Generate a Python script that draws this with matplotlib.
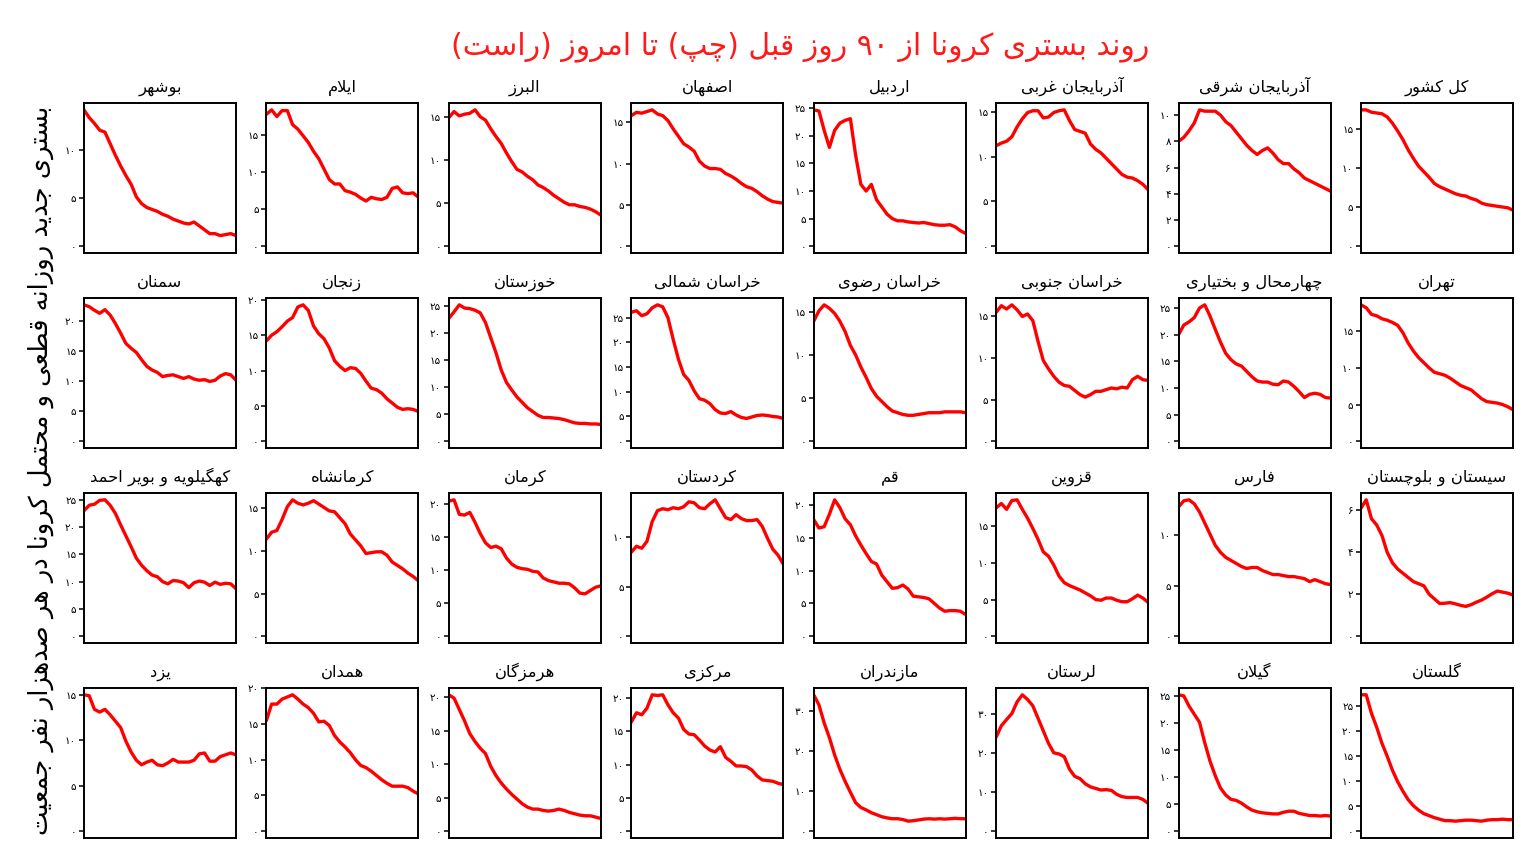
import re
import numpy as np
import matplotlib
matplotlib.use("Agg")
import matplotlib.pyplot as plt
from matplotlib.ticker import MaxNLocator, FuncFormatter

# ---------------- data (per 100k, last 90 days, sampled every 3 days) ----------------
names = ["کل کشور", "آذربایجان شرقی", "آذربایجان غربی", "اردبیل", "اصفهان", "البرز", "ایلام", "بوشهر",
         "تهران", "چهارمحال و بختیاری", "خراسان جنوبی", "خراسان رضوی", "خراسان شمالی", "خوزستان", "زنجان", "سمنان",
         "سیستان و بلوچستان", "فارس", "قزوین", "قم", "کردستان", "کرمان", "کرمانشاه", "کهگیلویه و بویر احمد",
         "گلستان", "گیلان", "لرستان", "مازندران", "مرکزی", "هرمزگان", "همدان", "یزد"]

kol_keshvar = [17.4, 17.4, 17.1, 17.0, 16.9, 16.5, 15.7, 14.7, 13.6, 12.3, 11.2, 10.2, 9.5, 8.8, 8.0,
               7.6, 7.3, 7.0, 6.7, 6.5, 6.4, 6.1, 5.9, 5.5, 5.3, 5.2, 5.1, 5.0, 4.9, 4.6]
azar_sharghi = [8.0, 8.3, 8.8, 9.4, 10.4, 10.3, 10.3, 10.3, 10.0, 9.5, 9.2, 8.7, 8.2, 7.7, 7.3,
                7.0, 7.3, 7.5, 7.1, 6.6, 6.3, 6.3, 5.9, 5.6, 5.2, 5.0, 4.8, 4.6, 4.4, 4.2]
azar_gharbi = [11.2, 11.5, 11.7, 12.2, 13.3, 14.2, 14.9, 15.1, 15.1, 14.3, 14.4, 14.9, 15.1, 15.2, 14.0,
               13.0, 12.8, 12.6, 11.4, 10.8, 10.4, 9.8, 9.2, 8.6, 8.0, 7.7, 7.6, 7.3, 6.9, 6.3]
ardabil = [24.7, 24.5, 21.0, 17.9, 21.0, 22.3, 22.8, 23.1, 16.5, 11.2, 10.0, 11.2, 8.4, 7.1, 5.8,
           5.0, 4.6, 4.6, 4.4, 4.3, 4.2, 4.3, 4.1, 3.9, 3.8, 3.8, 3.9, 3.5, 2.8, 2.3]
isfahan = [15.8, 16.2, 16.1, 16.3, 16.5, 16.0, 15.8, 15.2, 14.2, 13.3, 12.4, 12.0, 11.5, 10.3, 9.7,
           9.4, 9.4, 9.3, 8.8, 8.5, 8.1, 7.6, 7.2, 7.0, 6.6, 6.1, 5.7, 5.4, 5.3, 5.2]
alborz = [14.9, 15.6, 15.1, 15.3, 15.4, 15.8, 15.0, 14.6, 13.6, 12.7, 11.9, 10.8, 9.8, 8.9, 8.6,
          8.1, 7.7, 7.1, 6.8, 6.4, 5.9, 5.5, 5.1, 4.8, 4.8, 4.6, 4.5, 4.3, 4.0, 3.6]
ilam = [17.8, 18.4, 17.5, 18.3, 18.3, 16.4, 15.8, 14.9, 14.0, 12.8, 11.8, 10.4, 9.0, 8.4, 8.4,
        7.5, 7.3, 7.0, 6.5, 6.1, 6.6, 6.4, 6.3, 6.6, 7.8, 8.0, 7.2, 7.1, 7.2, 6.6]
bushehr = [14.1, 13.3, 12.7, 12.0, 11.8, 10.6, 9.4, 8.3, 7.3, 6.4, 5.1, 4.4, 4.0, 3.8, 3.6,
           3.3, 3.1, 2.8, 2.6, 2.4, 2.3, 2.5, 2.1, 1.7, 1.3, 1.3, 1.1, 1.2, 1.3, 1.1]

tehran = [18.6, 18.2, 17.3, 17.1, 16.7, 16.5, 16.2, 15.8, 14.8, 13.4, 12.3, 11.4, 10.7, 10.0, 9.4,
          9.2, 9.0, 8.6, 8.1, 7.6, 7.3, 7.0, 6.4, 5.8, 5.4, 5.3, 5.2, 5.0, 4.7, 4.3]
chaharmahal = [20.0, 21.8, 22.4, 23.2, 25.0, 25.6, 23.5, 21.0, 18.6, 16.5, 15.3, 14.5, 14.1, 13.1, 12.1,
               11.3, 11.1, 11.1, 10.7, 10.6, 11.3, 11.1, 10.3, 9.3, 8.2, 8.8, 9.0, 8.8, 8.2, 8.1]
khorasan_jonubi = [15.5, 16.3, 15.9, 16.4, 15.8, 15.0, 15.3, 14.5, 12.0, 9.7, 8.7, 7.8, 7.1, 6.7, 6.6,
                   6.1, 5.6, 5.3, 5.6, 6.0, 6.0, 6.2, 6.4, 6.3, 6.5, 6.4, 7.4, 7.8, 7.4, 7.3]
khorasan_razavi = [13.9, 15.1, 15.8, 15.4, 14.8, 13.9, 12.7, 11.1, 10.0, 8.6, 7.4, 6.1, 5.2, 4.6, 4.0,
                   3.5, 3.3, 3.1, 3.0, 3.0, 3.1, 3.2, 3.3, 3.3, 3.3, 3.4, 3.4, 3.4, 3.4, 3.3]
khorasan_shomali = [26.1, 26.4, 25.4, 25.8, 27.0, 27.6, 27.2, 25.0, 20.6, 16.6, 13.5, 12.3, 10.2, 8.6, 8.3,
                    7.6, 6.4, 5.7, 5.6, 6.0, 5.3, 4.8, 4.6, 4.9, 5.2, 5.3, 5.2, 5.0, 4.9, 4.6]
khuzestan = [22.8, 24.0, 25.3, 24.7, 24.6, 24.3, 23.8, 22.0, 19.2, 16.4, 13.2, 10.9, 9.5, 8.2, 7.2,
             6.2, 5.5, 4.8, 4.4, 4.4, 4.3, 4.2, 4.0, 3.7, 3.4, 3.3, 3.3, 3.2, 3.2, 3.1]
zanjan = [14.2, 15.0, 15.5, 16.2, 17.0, 17.5, 19.0, 19.3, 18.5, 16.3, 15.2, 14.5, 13.2, 11.4, 10.6,
          10.0, 10.4, 10.3, 9.6, 8.5, 7.5, 7.3, 6.8, 6.0, 5.4, 4.8, 4.5, 4.6, 4.5, 4.2]
semnan = [22.6, 22.3, 21.7, 21.2, 21.8, 20.9, 19.5, 17.9, 16.2, 15.4, 14.7, 13.5, 12.4, 11.8, 11.4,
          10.7, 10.9, 11.0, 10.7, 10.4, 10.7, 10.3, 10.1, 10.2, 9.9, 10.1, 10.8, 11.2, 11.0, 10.1]

sistan = [6.1, 6.5, 5.6, 5.3, 4.8, 4.0, 3.5, 3.2, 3.0, 2.8, 2.6, 2.5, 2.4, 2.0, 1.78,
          1.56, 1.57, 1.60, 1.54, 1.47, 1.42, 1.50, 1.62, 1.72, 1.86, 2.02, 2.15, 2.10, 2.05, 1.96]
fars = [12.8, 13.4, 13.5, 13.1, 12.3, 11.2, 10.1, 9.0, 8.3, 7.8, 7.5, 7.2, 6.9, 6.7, 6.8,
        6.8, 6.5, 6.3, 6.1, 6.1, 6.0, 5.9, 5.9, 5.8, 5.7, 5.4, 5.6, 5.4, 5.2, 5.1]
qazvin = [17.5, 18.1, 17.3, 18.5, 18.6, 17.3, 16.1, 14.7, 13.2, 11.5, 10.9, 9.7, 8.2, 7.3, 6.9,
          6.6, 6.3, 5.9, 5.5, 5.0, 4.9, 5.2, 5.2, 4.9, 4.7, 4.7, 5.1, 5.6, 5.2, 4.6]
qom = [17.8, 16.5, 16.7, 18.6, 20.8, 19.6, 17.9, 17.0, 15.3, 13.9, 12.6, 11.4, 11.0, 9.3, 8.3,
       7.3, 7.4, 7.8, 7.2, 6.1, 6.0, 5.9, 5.7, 5.0, 4.3, 3.8, 3.9, 3.9, 3.8, 3.3]
kordestan = [8.5, 9.1, 8.9, 9.6, 11.6, 12.7, 12.9, 12.8, 13.0, 12.9, 13.1, 13.6, 13.5, 13.0, 12.9,
             13.4, 13.8, 12.9, 12.0, 11.8, 12.3, 11.9, 11.7, 11.7, 11.8, 11.1, 9.9, 8.8, 8.2, 7.3]
kerman = [20.4, 20.6, 18.4, 18.3, 18.7, 17.2, 15.5, 14.1, 13.4, 13.6, 13.2, 11.8, 10.9, 10.4, 10.2,
          10.1, 9.8, 9.7, 8.8, 8.4, 8.2, 8.0, 8.0, 7.9, 7.3, 6.5, 6.4, 6.9, 7.4, 7.6]
kermanshah = [11.4, 12.2, 12.4, 13.7, 15.2, 16.0, 15.6, 15.4, 15.6, 15.9, 15.5, 15.1, 14.7, 14.6, 13.9,
              13.2, 12.0, 11.3, 10.6, 9.7, 9.8, 9.9, 9.9, 9.5, 8.7, 8.3, 7.9, 7.4, 7.0, 6.5]
kohgiluyeh = [23.0, 24.0, 24.2, 24.9, 25.0, 24.0, 22.5, 20.4, 18.4, 16.4, 14.3, 13.0, 12.0, 11.2, 10.9,
              10.0, 9.6, 10.2, 10.1, 9.8, 8.9, 9.8, 10.1, 9.9, 9.3, 9.9, 9.5, 9.7, 9.6, 8.7]

golestan = [27.3, 27.3, 23.6, 20.8, 17.6, 15.0, 12.2, 9.9, 8.0, 6.3, 5.1, 4.2, 3.5, 3.1, 2.7,
            2.4, 2.1, 2.1, 2.0, 2.1, 2.2, 2.2, 2.1, 2.0, 2.2, 2.3, 2.3, 2.4, 2.3, 2.3]
gilan = [25.3, 25.1, 23.2, 21.7, 20.2, 16.4, 13.0, 10.3, 8.0, 6.7, 5.9, 5.7, 5.2, 4.5, 3.9,
         3.6, 3.4, 3.3, 3.2, 3.2, 3.5, 3.7, 3.7, 3.3, 3.1, 2.9, 2.9, 2.8, 2.9, 2.8]
lorestan = [24.0, 26.9, 28.5, 30.0, 33.0, 34.8, 33.6, 32.0, 28.8, 25.6, 22.4, 20.0, 19.7, 19.0, 15.8,
            14.0, 13.4, 12.1, 11.3, 10.9, 10.5, 10.6, 10.4, 9.4, 8.8, 8.6, 8.6, 8.6, 8.1, 7.1]
mazandaran = [34.0, 31.5, 27.0, 23.3, 19.0, 15.4, 12.4, 9.7, 7.1, 5.9, 5.3, 4.6, 4.1, 3.6, 3.3,
              3.1, 3.1, 2.9, 2.5, 2.6, 2.8, 3.0, 3.1, 3.0, 3.1, 3.0, 3.1, 3.2, 3.1, 3.1]
markazi = [16.4, 17.8, 17.5, 18.5, 20.5, 20.4, 20.5, 19.0, 17.8, 17.0, 15.3, 14.6, 14.5, 13.7, 12.8,
           12.2, 11.9, 12.7, 11.1, 10.5, 9.8, 9.8, 9.7, 9.2, 8.3, 7.7, 7.6, 7.5, 7.2, 7.0]
hormozgan = [20.4, 19.9, 18.2, 16.5, 14.6, 13.4, 12.4, 11.6, 9.7, 8.3, 7.2, 6.3, 5.5, 4.8, 4.1,
             3.6, 3.3, 3.3, 3.1, 3.0, 3.1, 3.3, 3.1, 2.8, 2.6, 2.4, 2.3, 2.3, 2.1, 1.9]
hamedan = [15.5, 17.8, 17.8, 18.5, 18.8, 19.1, 18.5, 17.8, 17.3, 16.5, 15.3, 15.4, 14.8, 13.4, 12.5,
           11.8, 11.0, 10.0, 9.2, 8.9, 8.4, 7.8, 7.2, 6.7, 6.3, 6.3, 6.3, 6.1, 5.6, 5.2]
yazd = [15.0, 14.9, 13.4, 13.1, 13.4, 12.8, 12.1, 11.4, 9.9, 8.7, 7.8, 7.3, 7.6, 7.8, 7.3,
        7.2, 7.5, 7.9, 7.6, 7.6, 7.6, 7.8, 8.5, 8.6, 7.7, 7.7, 8.2, 8.4, 8.6, 8.4]

series = [kol_keshvar, azar_sharghi, azar_gharbi, ardabil, isfahan, alborz, ilam, bushehr,
          tehran, chaharmahal, khorasan_jonubi, khorasan_razavi, khorasan_shomali, khuzestan, zanjan, semnan,
          sistan, fars, qazvin, qom, kordestan, kerman, kermanshah, kohgiluyeh,
          golestan, gilan, lorestan, mazandaran, markazi, hormozgan, hamedan, yazd]

title_text = "روند بستری کرونا از ۹۰ روز قبل (چپ) تا امروز (راست)"
ylabel_text = "بستری جدید روزانه قطعی و محتمل کرونا در هر صدهزار نفر جمعیت"

# ---------------- small persian shaper (matplotlib does no arabic shaping) ----------------
# iso, fin, ini, med
FORMS = {
    'ا': ('\uFE8D', '\uFE8E', None, None), 'آ': ('\uFE81', '\uFE82', None, None),
    'ب': ('\uFE8F', '\uFE90', '\uFE91', '\uFE92'), 'پ': ('\uFB56', '\uFB57', '\uFB58', '\uFB59'),
    'ت': ('\uFE95', '\uFE96', '\uFE97', '\uFE98'), 'ث': ('\uFE99', '\uFE9A', '\uFE9B', '\uFE9C'),
    'ج': ('\uFE9D', '\uFE9E', '\uFE9F', '\uFEA0'), 'چ': ('\uFB7A', '\uFB7B', '\uFB7C', '\uFB7D'),
    'ح': ('\uFEA1', '\uFEA2', '\uFEA3', '\uFEA4'), 'خ': ('\uFEA5', '\uFEA6', '\uFEA7', '\uFEA8'),
    'د': ('\uFEA9', '\uFEAA', None, None), 'ذ': ('\uFEAB', '\uFEAC', None, None),
    'ر': ('\uFEAD', '\uFEAE', None, None), 'ز': ('\uFEAF', '\uFEB0', None, None),
    'ژ': ('\uFB8A', '\uFB8B', None, None),
    'س': ('\uFEB1', '\uFEB2', '\uFEB3', '\uFEB4'), 'ش': ('\uFEB5', '\uFEB6', '\uFEB7', '\uFEB8'),
    'ص': ('\uFEB9', '\uFEBA', '\uFEBB', '\uFEBC'), 'ض': ('\uFEBD', '\uFEBE', '\uFEBF', '\uFEC0'),
    'ط': ('\uFEC1', '\uFEC2', '\uFEC3', '\uFEC4'), 'ظ': ('\uFEC5', '\uFEC6', '\uFEC7', '\uFEC8'),
    'ع': ('\uFEC9', '\uFECA', '\uFECB', '\uFECC'), 'غ': ('\uFECD', '\uFECE', '\uFECF', '\uFED0'),
    'ف': ('\uFED1', '\uFED2', '\uFED3', '\uFED4'), 'ق': ('\uFED5', '\uFED6', '\uFED7', '\uFED8'),
    'ک': ('\uFB8E', '\uFB8F', '\uFB90', '\uFB91'), 'گ': ('\uFB92', '\uFB93', '\uFB94', '\uFB95'),
    'ل': ('\uFEDD', '\uFEDE', '\uFEDF', '\uFEE0'), 'م': ('\uFEE1', '\uFEE2', '\uFEE3', '\uFEE4'),
    'ن': ('\uFEE5', '\uFEE6', '\uFEE7', '\uFEE8'), 'و': ('\uFEED', '\uFEEE', None, None),
    'ه': ('\uFEE9', '\uFEEA', '\uFEEB', '\uFEEC'), 'ی': ('\uFBFC', '\uFBFD', '\uFBFE', '\uFBFF'),
}
LAM_ALEF = {'ا': ('\uFEFB', '\uFEFC'), 'آ': ('\uFEF5', '\uFEF6')}


def joins_next(c):
    return c in FORMS and FORMS[c][2] is not None


def fa(text):
    out = []
    i = 0
    n = len(text)
    while i < n:
        c = text[i]
        if c not in FORMS:
            out.append(c)
            i += 1
            continue
        prev = text[i - 1] if i > 0 else ''
        nxt = text[i + 1] if i + 1 < n else ''
        jp = joins_next(prev)
        if c == 'ل' and nxt in LAM_ALEF:
            out.append(LAM_ALEF[nxt][1] if jp else LAM_ALEF[nxt][0])
            i += 2
            continue
        jn = joins_next(c) and nxt in FORMS
        iso, fin, ini, med = FORMS[c]
        if jp and jn:
            out.append(med)
        elif jp:
            out.append(fin)
        elif jn:
            out.append(ini)
        else:
            out.append(iso)
        i += 1
    tokens = re.findall(r'[0-9\u06F0-\u06F9]+|.', ''.join(out))
    tokens.reverse()
    mirror = {'(': ')', ')': '('}
    return ''.join(mirror.get(t, t) for t in tokens)


FA_DIGITS = str.maketrans('0123456789', '۰۱۲۳۴۵۶۷۸۹')


def fa_num(v, pos):
    if abs(v - round(v)) < 1e-9:
        return str(int(round(v))).translate(FA_DIGITS)
    return ('%g' % v).translate(FA_DIGITS)


# ---------------- plot ----------------
plt.rcParams['font.family'] = ['DejaVu Sans']

fig, axes = plt.subplots(4, 8, figsize=(15.32, 8.63), dpi=100)
fig.subplots_adjust(left=0.0548, right=0.9876, top=0.8806, bottom=0.029, wspace=0.2, hspace=0.3)

for k in range(len(names)):
    r = k // 8
    c = 7 - (k % 8)
    ax = axes[r, c]
    y = np.array(series[k])
    x = np.arange(len(y))
    ax.plot(x, y, color='#ff0000', linewidth=2.4, solid_capstyle='round')
    ax.set_xlim(0, len(y) - 1)
    top = y.max()
    pad = 0.05 * top
    ax.set_ylim(-pad, top + pad)
    ax.set_xticks([])
    ax.yaxis.set_major_locator(MaxNLocator(nbins=7, steps=[1, 2, 5, 10]))
    ax.yaxis.set_major_formatter(FuncFormatter(fa_num))
    ax.tick_params(axis='y', labelsize=7.5, length=3.5, width=1.1, pad=2)
    for sp in ax.spines.values():
        sp.set_linewidth(1.4)
        sp.set_color('black')
    ax.set_title(fa(names[k]), fontsize=11.8, pad=8)

fig.text(0.522, 0.946, fa(title_text), color='#ff1a1a', fontsize=21.5, ha='center', va='center')
fig.text(0.027, 0.455, fa(ylabel_text), color='black', fontsize=18.5, ha='center', va='center',
         rotation=90)

fig.savefig('out.png', dpi=100)
